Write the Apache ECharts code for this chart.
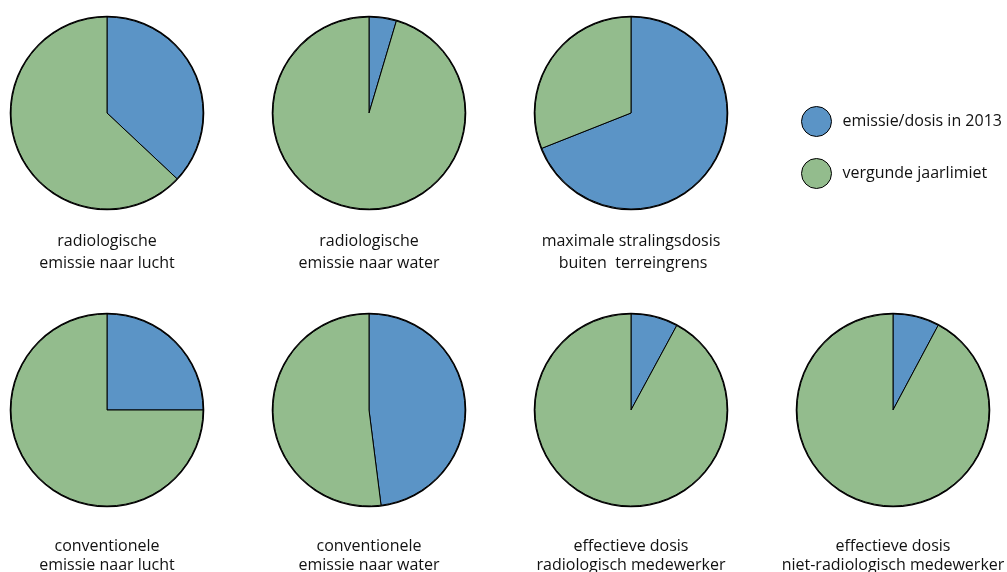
<!DOCTYPE html>
<html><head><meta charset="utf-8">
<script src="https://cdn.jsdelivr.net/npm/echarts@6/dist/echarts.min.js"></script>
<style>html,body{margin:0;padding:0;background:#fff}#c{width:1007px;height:572px}</style>
</head><body><div id="c"></div>
<script>
const labels = [
  "radiologische\nemissie naar lucht",
  "radiologische\nemissie naar water",
  "maximale stralingsdosis\n buiten  terreingrens",
  "conventionele\nemissie naar lucht",
  "conventionele\nemissie naar water",
  "effectieve dosis\nradiologisch medewerker",
  "effectieve dosis\nniet-radiologisch medewerker"
];
const emissie = [37, 4.6, 69, 25, 48, 7.9, 7.8];
const seriesNames = ["emissie/dosis in 2013", "vergunde jaarlimiet"];
const centers = [[107,113],[369,113],[631,113],[107,410],[369,410],[631,410],[893,410]];
const BLUE = "#5b94c6", GREEN = "#93bc8d";
const R = 96;
const font = "'Open Sans', 'Noto Sans', sans-serif";

const series = [];
const titles = [];
emissie.forEach((v, i) => {
  series.push({
    type: 'pie', radius: [0, R], center: centers[i], startAngle: 90, clockwise: true,
    silent: true, animation: false, label: {show: false}, labelLine: {show: false},
    itemStyle: {borderColor: '#000', borderWidth: 1},
    data: [
      {name: seriesNames[0], value: v, itemStyle: {color: BLUE}},
      {name: seriesNames[1], value: 100 - v, itemStyle: {color: GREEN}}
    ]
  });
  series.push({
    type: 'pie', radius: [R, R + 1.3], center: centers[i], silent: true, animation: false,
    label: {show: false}, labelLine: {show: false}, itemStyle: {color: '#000'},
    data: [{name: 'outline', value: 1}]
  });
  const top = i < 3;
  titles.push({
    text: labels[i], left: centers[i][0], top: top ? 230 : 536.5, textAlign: 'center', padding: 0,
    textStyle: {fontFamily: font, fontSize: 16, fontWeight: 'normal', color: '#111', lineHeight: top ? 22 : 19}
  });
});

const chart = echarts.init(document.getElementById('c'), null, {renderer: 'canvas'});
chart.setOption({
  animation: false,
  title: titles,
  legend: {
    data: seriesNames, orient: 'vertical', left: 801, top: 106, itemGap: 21, padding: 0,
    itemWidth: 30, itemHeight: 30, icon: 'circle',
    itemStyle: {borderColor: '#000', borderWidth: 1},
    textStyle: {fontFamily: font, fontSize: 16, color: '#111', padding: [0,0,0,6]}
  },
  series: series
});
</script></body></html>
